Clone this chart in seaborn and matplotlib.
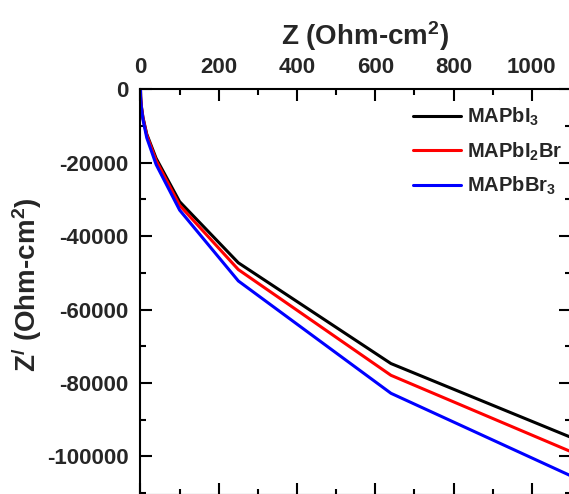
import matplotlib
matplotlib.use("Agg")
import matplotlib.pyplot as plt
from matplotlib.ticker import MultipleLocator
import numpy as np
import pandas as pd
import seaborn as sns

# Impedance data (Ohm-cm^2)
z_real = [0, 0.4, 1, 2.5, 6.4, 16, 40, 100, 250, 640, 1100]
z_mapbi3 = [0, -1900, -3000, -4800, -7700, -12200, -18800, -30600, -47250, -74700, -94800]
z_mapbi2br = [0, -1950, -3100, -4900, -7900, -12500, -19400, -31600, -49100, -77900, -98700]
z_mapbbr3 = [0, -2050, -3250, -5150, -8300, -13200, -20500, -32900, -52200, -82800, -105300]

series_names = ["MAPbI$_3$", "MAPbI$_2$Br", "MAPbBr$_3$"]
series_colors = ["#000000", "#ff0000", "#0000ff"]
x_ticks = [0, 200, 400, 600, 800, 1000]
y_ticks = [0, -20000, -40000, -60000, -80000, -100000]

frames = []
for name, vals in zip(series_names, [z_mapbi3, z_mapbi2br, z_mapbbr3]):
    frames.append(pd.DataFrame({"Z": z_real, "Zp": vals, "sample": name}))
df = pd.concat(frames, ignore_index=True)

sns.set_style("ticks")
plt.rcParams["font.family"] = ["Liberation Sans", "DejaVu Sans"]
plt.rcParams["font.weight"] = "bold"
plt.rcParams["axes.labelweight"] = "bold"
plt.rcParams["mathtext.default"] = "regular"
plt.rcParams["axes.unicode_minus"] = False

fig = plt.figure(figsize=(5.69, 4.94), dpi=100)
ax = fig.add_axes([0.2469, -0.002, 0.7566, 0.8212])

sns.lineplot(data=df, x="Z", y="Zp", hue="sample", palette=series_colors,
             hue_order=series_names, sort=False, linewidth=2.2, ax=ax,
             estimator=None)

ax.set_xlim(0, 1100)
ax.set_ylim(-110500, 0)
ax.set_xticks(x_ticks)
ax.set_yticks(y_ticks)
ax.xaxis.set_minor_locator(MultipleLocator(100))
ax.yaxis.set_minor_locator(MultipleLocator(10000))

for s in ax.spines.values():
    s.set_linewidth(1.5)
    s.set_color("black")

ax.tick_params(which="both", direction="in", top=True, bottom=True,
               left=True, right=True, labeltop=True, labelbottom=False,
               labelleft=True, labelright=False, width=1.5, color="black")
ax.tick_params(which="major", length=8.5, pad=8.5, labelsize=16)
ax.tick_params(which="minor", length=4.5)
for lab in ax.get_xticklabels() + ax.get_yticklabels():
    lab.set_fontweight("bold")

ax.xaxis.set_label_position("top")
ax.set_xlabel("Z (Ohm-cm$^2$)", fontsize=20, fontweight="bold")
ax.set_ylabel("Z$^{/}$ (Ohm-cm$^2$)", fontsize=20, fontweight="bold")
ax.xaxis.set_label_coords(0.521, 1.110)
ax.yaxis.set_label_coords(-0.224, 0.518)

leg = ax.legend(loc="upper left", bbox_to_anchor=(413 / 569, 1 - 106 / 494),
                bbox_transform=fig.transFigure, frameon=False,
                prop={"size": 14.5, "weight": "bold"}, handlelength=2.4,
                handletextpad=0.3, labelspacing=0.6, borderpad=0,
                borderaxespad=0)
for line in leg.get_lines():
    line.set_linewidth(2.2)

fig.savefig("out.png", dpi=100)
